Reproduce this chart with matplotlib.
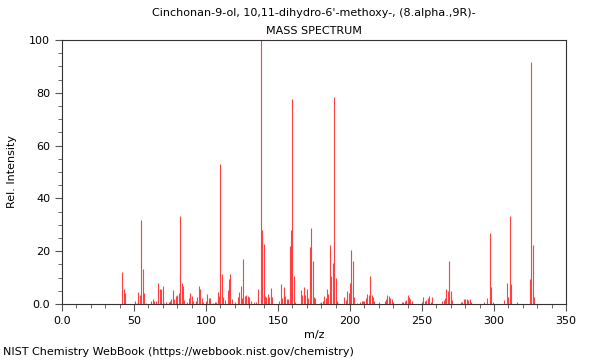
import matplotlib
matplotlib.use("Agg")
import matplotlib.pyplot as plt
from matplotlib.ticker import MultipleLocator, FixedLocator, FixedFormatter

# peak list (m/z, relative intensity)
mz = [42, 43, 44, 51, 52, 53, 54, 55, 56, 57, 58,
      62, 63, 64, 65, 67, 68, 69, 70, 71, 72, 74, 75, 76, 77, 78, 79, 80,
      81, 82, 83, 84, 85, 87, 88, 89, 90, 91, 93, 94, 95, 96, 97, 98,
      100, 101, 102, 103, 105, 106, 107, 108, 109, 110, 111, 112, 113,
      115, 116, 117, 118, 120, 122, 123, 124, 125, 126, 127, 128, 129,
      130, 131, 133, 135, 136, 138, 139, 140, 141, 142, 143, 144, 145,
      146, 151, 152, 153, 154, 155, 156, 157, 158, 159, 160, 161, 162,
      166, 167, 168, 169, 170, 171, 172, 173, 174, 175, 176, 179, 180,
      181, 182, 183, 184, 185, 186, 187, 188, 189, 190, 191, 192,
      196, 197, 198, 199, 200, 201, 202, 203, 205, 207, 208, 209, 210,
      211, 212, 213, 214, 215, 216, 217, 220, 224, 225, 226, 227, 228,
      229, 230, 236, 237, 238, 239, 240, 241, 242, 243, 250, 251, 252,
      253, 254, 255, 256, 257, 264, 265, 266, 267, 268, 269, 270, 271,
      277, 278, 279, 280, 281, 282, 283, 284, 293, 295, 297, 298, 299,
      307, 309, 310, 311, 312, 316, 325, 326, 327, 328]
intensity = [12.3, 5.8, 4.2, 1.0, 0.5, 4.5, 3.3, 32.0, 13.2, 4.0, 0.5,
             1.0, 2.0, 1.2, 1.0, 7.8, 5.5, 5.6, 6.8, 0.5, 0.8, 0.6, 1.0, 1.8, 5.3, 2.0, 3.0, 3.5,
             4.0, 33.3, 7.8, 7.0, 1.5, 0.6, 2.4, 4.2, 3.0, 1.2, 1.2, 2.5, 6.7, 5.5, 2.3, 0.8,
             1.0, 3.8, 2.4, 2.4, 0.4, 0.6, 0.8, 4.4, 3.1, 53.2, 11.4, 2.5, 1.6,
             5.3, 9.3, 11.4, 1.7, 0.8, 2.5, 4.5, 6.8, 2.3, 17.2, 3.0, 3.3, 3.0,
             2.6, 1.0, 0.7, 0.6, 5.6, 100.0, 28.0, 22.7, 3.2, 2.8, 3.7, 2.8, 6.2,
             2.8, 1.0, 7.7, 2.4, 6.4, 3.0, 2.0, 2.0, 22.0, 28.0, 77.6, 10.7, 0.8,
             5.3, 3.4, 6.4, 3.4, 5.8, 2.4, 21.7, 28.7, 16.3, 2.5, 2.4, 0.5, 0.8,
             1.0, 3.0, 2.4, 5.6, 3.7, 22.4, 10.6, 15.4, 78.3, 10.0, 1.0, 0.5,
             2.8, 1.6, 4.9, 4.1, 7.8, 20.4, 16.3, 2.8, 0.5, 0.8, 1.0, 1.1, 1.2,
             2.4, 3.8, 3.5, 10.7, 3.5, 2.5, 1.0, 0.9, 1.2, 1.8, 3.4, 2.9, 2.2,
             2.0, 0.8, 0.9, 0.8, 1.3, 1.6, 3.4, 2.8, 1.8, 1.0, 0.7, 2.8, 1.2,
             1.5, 2.4, 3.0, 0.7, 2.5, 1.0, 1.6, 2.2, 5.5, 5.0, 16.3, 5.0, 1.5,
             0.6, 0.8, 2.0, 1.7, 1.8, 1.5, 1.8, 0.8, 0.6, 2.4, 27.0, 6.6, 0.8,
             1.5, 7.8, 2.8, 33.3, 7.6, 0.8, 9.5, 91.7, 22.3, 2.8]

x_ticks = [0, 50, 100, 150, 200, 250, 300, 350]
x_labels = ["0.0", "50", "100", "150", "200", "250", "300", "350"]
y_ticks = [0, 20, 40, 60, 80, 100]
y_labels = ["0.0", "20", "40", "60", "80", "100"]

title = "Cinchonan-9-ol, 10,11-dihydro-6'-methoxy-, (8.alpha.,9R)-"

fig = plt.figure(figsize=(6, 3.6), dpi=100)
ax = fig.add_axes([0.1033, 0.1556, 0.84, 0.7333])

ax.vlines(mz, 0, intensity, color="#ff4040", linewidth=0.8)

ax.set_xlim(0, 350)
ax.set_ylim(0, 100)
ax.xaxis.set_major_locator(FixedLocator(x_ticks))
ax.xaxis.set_major_formatter(FixedFormatter(x_labels))
ax.xaxis.set_minor_locator(MultipleLocator(10))
ax.yaxis.set_major_locator(FixedLocator(y_ticks))
ax.yaxis.set_major_formatter(FixedFormatter(y_labels))
ax.yaxis.set_minor_locator(MultipleLocator(5))
ax.tick_params(which="major", length=5, width=0.8, color="#555555", labelsize=8)
ax.tick_params(which="minor", length=3, width=0.6, color="#555555")
for s in ax.spines.values():
    s.set_color("#333333")
    s.set_linewidth(0.8)

ax.set_xlabel("m/z", fontsize=8, labelpad=3)
ax.set_ylabel("Rel. Intensity", fontsize=8, labelpad=9)

fig.text(0.523, 0.963, title, ha="center", va="center", fontsize=8)
fig.text(0.523, 0.915, "MASS SPECTRUM", ha="center", va="center", fontsize=8)
fig.text(0.005, 0.022, "NIST Chemistry WebBook (https://webbook.nist.gov/chemistry)",
         ha="left", va="center", fontsize=8)

fig.savefig("out.png", dpi=100)
